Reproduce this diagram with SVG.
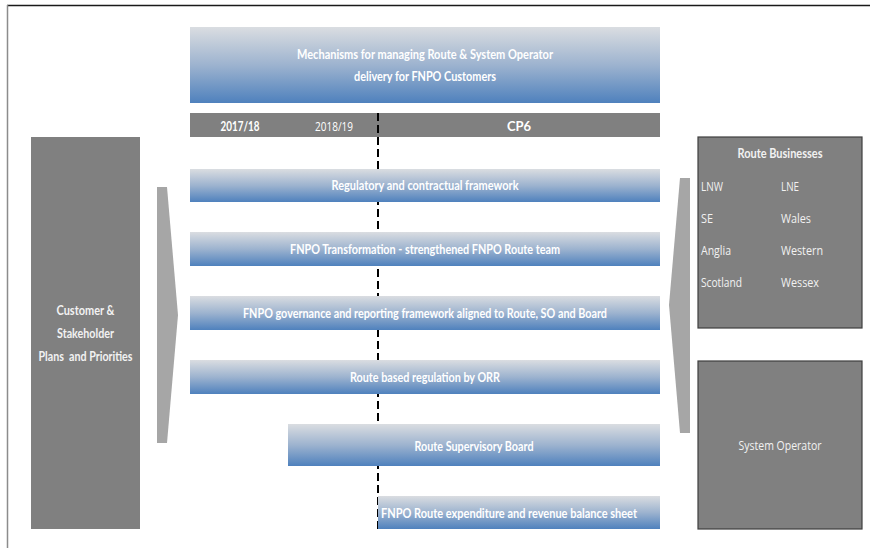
<svg xmlns="http://www.w3.org/2000/svg" width="870" height="548" viewBox="0 0 870 548">
<defs>
<linearGradient id="blueGrad" x1="0" y1="0" x2="0" y2="1">
<stop offset="0" stop-color="#dadde1"/>
<stop offset="0.5" stop-color="#9db3cf"/>
<stop offset="1" stop-color="#4f81bd"/>
</linearGradient>
<style>
.bar{fill:url(#blueGrad);}
.gray{fill:#808080;}
.box{fill:#808080;stroke:#3f3f3f;stroke-width:1.2;}
.arrow{fill:#a6a6a6;}
.t{font-family:Lato,"Open Sans","Liberation Sans",sans-serif;font-size:13px;fill:#ffffff;text-anchor:middle;font-weight:bold;}
.r{font-family:"Open Sans",Lato,"Liberation Sans",sans-serif;font-weight:normal;}
.g{font-family:"Open Sans",Lato,"Liberation Sans",sans-serif;font-size:13px;fill:#f2f2f2;}
.gb{font-family:Lato,"Open Sans","Liberation Sans",sans-serif;font-weight:bold;font-size:13.5px;}
.gm{text-anchor:middle;}
.dash{stroke:#000000;stroke-width:2;stroke-dasharray:8 4;fill:none;}
</style>
</defs>
<rect x="0" y="0" width="870" height="548" fill="#ffffff"/>
<line x1="7" y1="5.5" x2="870" y2="5.5" stroke="#1a1a1a" stroke-width="1.5"/>
<line x1="7.5" y1="5" x2="7.5" y2="548" stroke="#8c8c8c" stroke-width="1.5"/>

<g id="header">
<rect class="bar" x="190" y="27" width="470" height="76"/>
<text class="t" x="425" y="59" textLength="256" lengthAdjust="spacingAndGlyphs">Mechanisms for managing Route &amp; System Operator</text>
<text class="t" x="425" y="81" textLength="142" lengthAdjust="spacingAndGlyphs">delivery for FNPO Customers</text>
</g>

<g id="timeline">
<rect class="gray" x="190" y="113" width="470" height="24"/>
<text class="t" x="240" y="131" textLength="39" lengthAdjust="spacingAndGlyphs">2017/18</text>
<text class="t r" x="334" y="131" textLength="38" lengthAdjust="spacingAndGlyphs">2018/19</text>
<text class="t" x="519" y="131">CP6</text>
</g>

<g id="connectors">
<line class="dash" x1="378" y1="113" x2="378" y2="529"/>
<polygon class="arrow" points="157,187 167,187 178,315 167,443 157,443"/>
<polygon class="arrow" points="690,178 680,178 669,305 680,433 690,433"/>
</g>

<g id="customer">
<rect class="gray" x="31" y="137" width="109" height="392"/>
<text class="g gb gm" x="85.5" y="315" textLength="58" lengthAdjust="spacingAndGlyphs">Customer &amp;</text>
<text class="g gb gm" x="85.5" y="338" textLength="57" lengthAdjust="spacingAndGlyphs">Stakeholder</text>
<text class="g gb gm" x="85.5" y="361" textLength="94" lengthAdjust="spacingAndGlyphs" xml:space="preserve">Plans  and Priorities</text>
</g>

<g id="regulatory">
<rect class="bar" x="190" y="169" width="470" height="33"/>
<text class="t" x="425" y="190" textLength="187" lengthAdjust="spacingAndGlyphs">Regulatory and contractual framework</text>
</g>

<g id="transformation">
<rect class="bar" x="190" y="232" width="470" height="34"/>
<text class="t" x="425" y="254" textLength="270" lengthAdjust="spacingAndGlyphs">FNPO Transformation - strengthened FNPO Route team</text>
</g>

<g id="governance">
<rect class="bar" x="190" y="296" width="470" height="34"/>
<text class="t" x="425" y="318" textLength="364" lengthAdjust="spacingAndGlyphs">FNPO governance and reporting framework aligned to Route, SO and Board</text>
</g>

<g id="regulation">
<rect class="bar" x="190" y="360" width="470" height="34"/>
<text class="t" x="425" y="382" textLength="150" lengthAdjust="spacingAndGlyphs">Route based regulation by ORR</text>
</g>

<g id="supervisory">
<rect class="bar" x="288" y="424" width="372" height="42"/>
<text class="t" x="474" y="451" textLength="119" lengthAdjust="spacingAndGlyphs">Route Supervisory Board</text>
</g>

<g id="expenditure">
<rect class="bar" x="378" y="496" width="282" height="33"/>
<text class="t" x="381" y="518" style="text-anchor:start" textLength="256" lengthAdjust="spacingAndGlyphs">FNPO Route expenditure and revenue balance sheet</text>
</g>

<g id="route-businesses">
<rect class="box" x="698" y="137" width="164" height="191"/>
<text class="g gb gm" x="780" y="158" textLength="85" lengthAdjust="spacingAndGlyphs">Route Businesses</text>
<text class="g" x="701" y="191" textLength="22" lengthAdjust="spacingAndGlyphs">LNW</text>
<text class="g" x="781" y="191" textLength="18" lengthAdjust="spacingAndGlyphs">LNE</text>
<text class="g" x="701" y="223" textLength="12" lengthAdjust="spacingAndGlyphs">SE</text>
<text class="g" x="781" y="223" textLength="30" lengthAdjust="spacingAndGlyphs">Wales</text>
<text class="g" x="701" y="255" textLength="30" lengthAdjust="spacingAndGlyphs">Anglia</text>
<text class="g" x="781" y="255" textLength="42" lengthAdjust="spacingAndGlyphs">Western</text>
<text class="g" x="701" y="287" textLength="41" lengthAdjust="spacingAndGlyphs">Scotland</text>
<text class="g" x="781" y="287" textLength="38" lengthAdjust="spacingAndGlyphs">Wessex</text>
</g>

<g id="system-operator">
<rect class="box" x="698" y="361" width="164" height="168"/>
<text class="g gm" x="780" y="450" textLength="83" lengthAdjust="spacingAndGlyphs">System Operator</text>
</g>
</svg>
